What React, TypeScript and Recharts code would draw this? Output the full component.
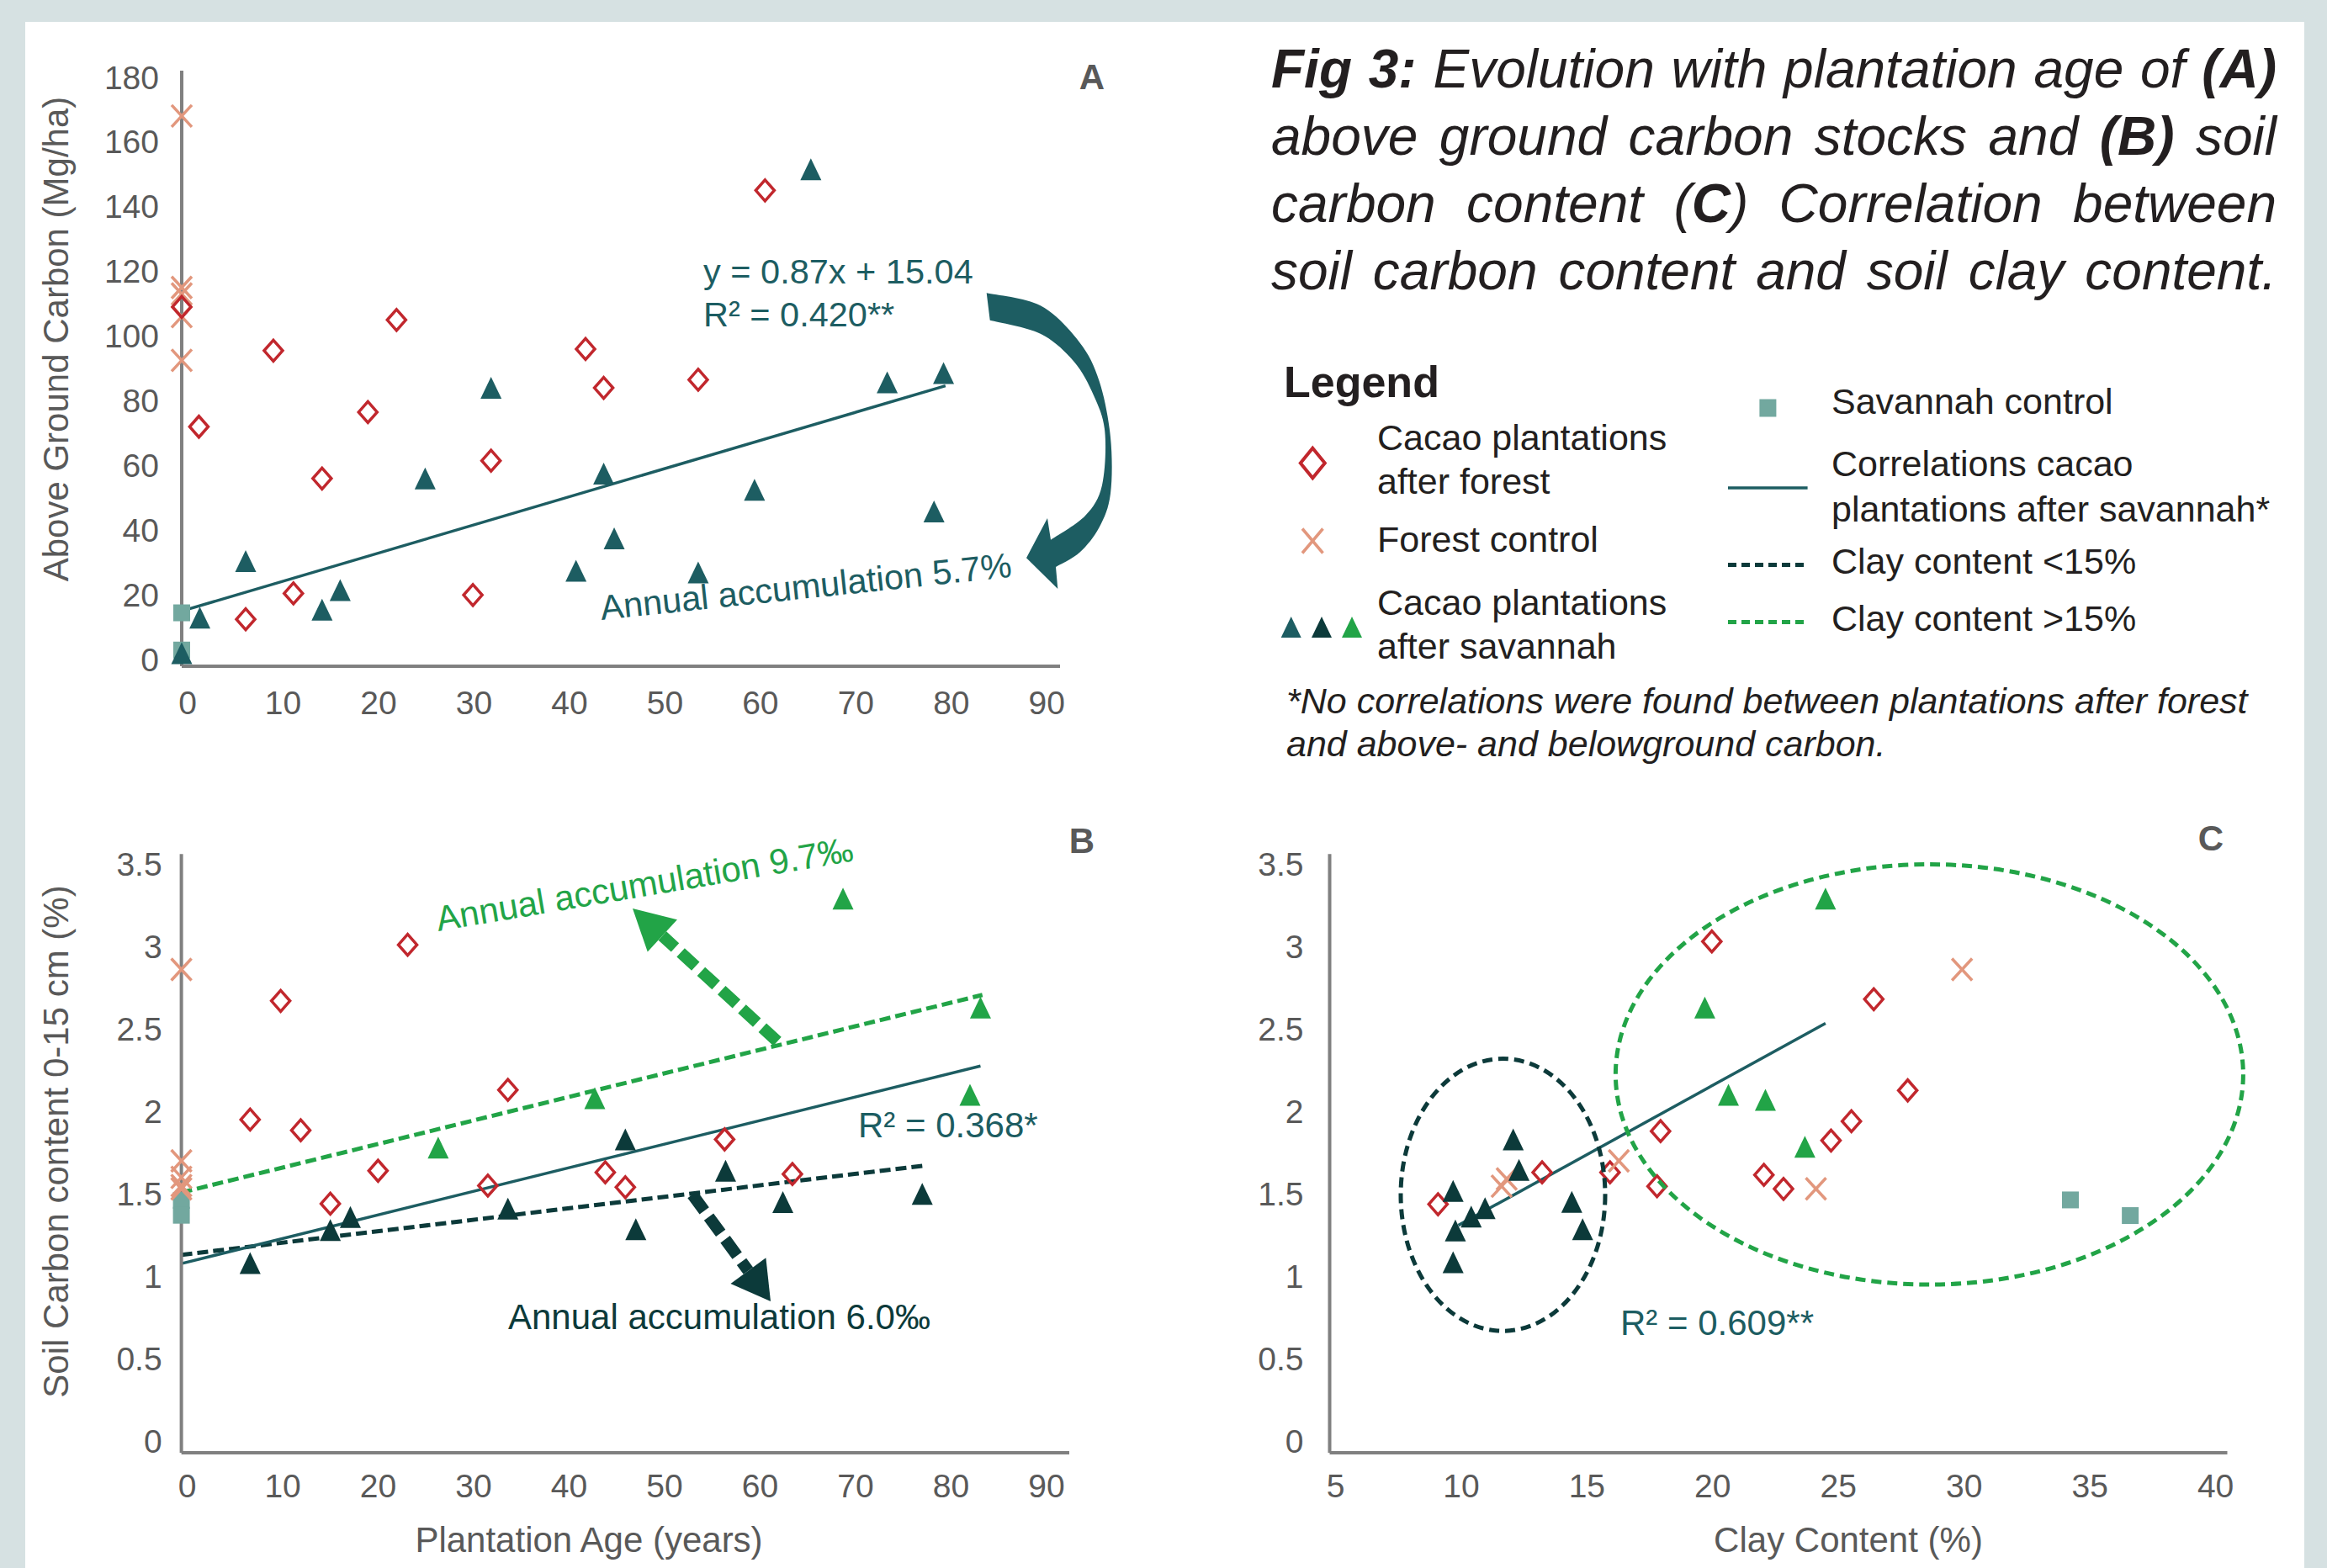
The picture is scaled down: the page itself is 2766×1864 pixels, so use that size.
import React from 'react';
import { ScatterChart, Scatter, XAxis, YAxis, ReferenceLine } from 'recharts';

const FONT = '"Liberation Sans", Arial, Helvetica, sans-serif';

// ---------------- DATA ----------------
const ageTicks = [0, 10, 20, 30, 40, 50, 60, 70, 80, 90];
const carbonTicks = [0, 20, 40, 60, 80, 100, 120, 140, 160, 180];
const soilTicks = [0, 0.5, 1, 1.5, 2, 2.5, 3, 3.5];
const clayTicks = [5, 10, 15, 20, 25, 30, 35, 40];

// Panel A: above ground carbon (Mg/ha) vs plantation age
const forestControlA = [
  { x: 0, y: 168 }, { x: 0, y: 115 }, { x: 0, y: 113 }, { x: 0, y: 106 }, { x: 0, y: 92.5 },
];
const savannahControlA = [{ x: 0, y: 14.5 }, { x: 0, y: 3 }];
const cacaoForestA = [
  { x: 0, y: 109 }, { x: 1.8, y: 72 }, { x: 6.7, y: 12.5 }, { x: 9.6, y: 95.5 }, { x: 11.7, y: 20.5 },
  { x: 14.7, y: 56 }, { x: 19.5, y: 76.5 }, { x: 22.5, y: 105 }, { x: 30.5, y: 20 }, { x: 32.4, y: 61.5 },
  { x: 42.3, y: 96 }, { x: 44.2, y: 84 }, { x: 54.1, y: 86.5 }, { x: 61.1, y: 145 },
];
const cacaoSavannahA = [
  { x: 0, y: 2 }, { x: 1.9, y: 13 }, { x: 6.7, y: 30.5 }, { x: 14.7, y: 15.5 }, { x: 16.6, y: 21.5 },
  { x: 25.5, y: 56 }, { x: 32.4, y: 84 }, { x: 41.3, y: 27.5 }, { x: 44.2, y: 57.5 }, { x: 45.3, y: 37.5 },
  { x: 54.1, y: 27 }, { x: 60.0, y: 52.5 }, { x: 65.9, y: 151.5 }, { x: 73.9, y: 85.7 }, { x: 78.8, y: 45.8 },
  { x: 79.8, y: 88.6 },
];
const trendA = [{ x: 0, y: 15.04 }, { x: 80, y: 84.64 }];

// Panel B: soil carbon (%) vs plantation age
const forestControlB = [
  { x: 0, y: 2.86 }, { x: 0, y: 1.7 }, { x: 0, y: 1.6 }, { x: 0, y: 1.55 }, { x: 0, y: 1.53 },
];
const savannahControlB = [{ x: 0, y: 1.46 }, { x: 0, y: 1.37 }];
const cacaoForestB = [
  { x: 7.2, y: 1.95 }, { x: 10.4, y: 2.67 }, { x: 12.5, y: 1.885 }, { x: 15.6, y: 1.44 },
  { x: 20.6, y: 1.64 }, { x: 23.7, y: 3.01 }, { x: 32.1, y: 1.55 }, { x: 34.2, y: 2.13 },
  { x: 44.4, y: 1.63 }, { x: 46.5, y: 1.54 }, { x: 56.9, y: 1.83 }, { x: 64.0, y: 1.62 },
];
const lowClayB = [
  { x: 7.2, y: 1.08 }, { x: 15.6, y: 1.28 }, { x: 17.7, y: 1.36 }, { x: 34.2, y: 1.41 },
  { x: 46.5, y: 1.83 }, { x: 47.6, y: 1.285 }, { x: 57.0, y: 1.64 }, { x: 63.0, y: 1.45 },
  { x: 77.6, y: 1.5 },
];
const highClayB = [
  { x: 26.9, y: 1.78 }, { x: 43.3, y: 2.08 }, { x: 69.3, y: 3.29 }, { x: 82.6, y: 2.1 }, { x: 83.7, y: 2.63 },
];
const trendB = [{ x: 0, y: 1.077 }, { x: 83.7, y: 2.275 }];
const trendHighClayB = [{ x: 0, y: 1.508 }, { x: 83.9, y: 2.706 }];
const trendLowClayB = [{ x: 0, y: 1.13 }, { x: 77.8, y: 1.671 }];

// Panel C: soil carbon (%) vs clay content (%)
const cacaoForestC = [
  { x: 9.31, y: 1.437 }, { x: 13.45, y: 1.63 }, { x: 16.15, y: 1.63 }, { x: 18.02, y: 1.546 },
  { x: 18.16, y: 1.88 }, { x: 20.2, y: 3.03 }, { x: 22.27, y: 1.615 }, { x: 23.05, y: 1.53 },
  { x: 24.94, y: 1.823 }, { x: 25.75, y: 1.94 }, { x: 26.64, y: 2.68 }, { x: 27.99, y: 2.127 },
];
const forestControlC = [
  { x: 11.84, y: 1.546 }, { x: 12.04, y: 1.59 }, { x: 16.5, y: 1.7 }, { x: 24.34, y: 1.53 }, { x: 30.15, y: 2.86 },
];
const savannahControlC = [{ x: 34.46, y: 1.463 }, { x: 36.84, y: 1.368 }];
const lowClayC = [
  { x: 9.91, y: 1.085 }, { x: 9.91, y: 1.517 }, { x: 10.0, y: 1.278 }, { x: 10.63, y: 1.362 },
  { x: 11.18, y: 1.413 }, { x: 12.3, y: 1.83 }, { x: 12.53, y: 1.645 }, { x: 14.63, y: 1.451 },
  { x: 15.06, y: 1.285 },
];
const highClayC = [
  { x: 19.92, y: 2.63 }, { x: 20.86, y: 2.1 }, { x: 22.33, y: 2.07 }, { x: 23.9, y: 1.785 }, { x: 24.72, y: 3.29 },
];
const trendC = [{ x: 10.12, y: 1.309 }, { x: 24.72, y: 2.534 }];

// ---------------- STYLE ----------------
const C_TEAL = '#1d5d62';
const C_DARK = '#0c3a3a';
const C_GREEN = '#22a447';
const C_RED = '#c1272d';
const C_SALMON = '#e2977d';
const C_SAV = '#72a89f';
const C_AXIS = '#808080';
const C_TICK = '#595959';
const C_TEXT = '#231f20';

const tickStyle = { fill: C_TICK, fontSize: 39, fontFamily: FONT };
const xTickStyle = { fill: C_TICK, fontSize: 39, fontFamily: FONT, dx: 7 };
const axisLine = { stroke: C_AXIS, strokeWidth: 4 };

const Diamond = (p: any) => (
  <path
    d={`M${p.cx},${p.cy - 12.5}L${p.cx + 11},${p.cy}L${p.cx},${p.cy + 12.5}L${p.cx - 11},${p.cy}Z`}
    fill="none" stroke={C_RED} strokeWidth={3.5}
  />
);
const Cross = (p: any) => (
  <g stroke={C_SALMON} strokeWidth={3.5}>
    <line x1={p.cx - 12} y1={p.cy - 13} x2={p.cx + 12} y2={p.cy + 13} />
    <line x1={p.cx - 12} y1={p.cy + 13} x2={p.cx + 12} y2={p.cy - 13} />
  </g>
);
const Square = (p: any) => <rect x={p.cx - 10} y={p.cy - 10} width={20} height={20} fill={C_SAV} />;
const makeTri = (color: string) => (p: any) => (
  <path d={`M${p.cx},${p.cy - 13}L${p.cx + 12.5},${p.cy + 13}L${p.cx - 12.5},${p.cy + 13}Z`} fill={color} />
);
const TriTeal = makeTri(C_TEAL);
const TriDark = makeTri(C_DARK);
const TriGreen = makeTri(C_GREEN);

function smooth(pts: number[][]): string {
  let d = '';
  for (let i = 0; i < pts.length - 1; i++) {
    const p0 = pts[Math.max(0, i - 1)];
    const p1 = pts[i];
    const p2 = pts[i + 1];
    const p3 = pts[Math.min(pts.length - 1, i + 2)];
    const c1 = [p1[0] + (p2[0] - p0[0]) / 6, p1[1] + (p2[1] - p0[1]) / 6];
    const c2 = [p2[0] - (p3[0] - p1[0]) / 6, p2[1] - (p3[1] - p1[1]) / 6];
    d += ` C${c1[0]},${c1[1]} ${c2[0]},${c2[1]} ${p2[0]},${p2[1]}`;
  }
  return d;
}

const outerArc = [
  [1172.7, 348.3], [1236.7, 363.3], [1283, 406.7], [1306.7, 453.3], [1320, 520],
  [1320, 586.7], [1306.7, 626.7], [1283.3, 656.7], [1255, 674],
];
const innerArc = [
  [1249, 641.7], [1290, 613], [1310, 576.7], [1313.3, 513], [1300, 470],
  [1276.7, 430], [1236.7, 396.7], [1176.7, 380.7],
];
const curvedArrowPath =
  `M${outerArc[0][0]},${outerArc[0][1]}` + smooth(outerArc) +
  ' L1257.3,700 L1220,663.3 L1245,616 L1249,641.7' + smooth(innerArc) + ' Z';

function DashedArrow(props: { x1: number; y1: number; x2: number; y2: number; color: string; w: number; hl: number; hw: number; dash: string }) {
  const { x1, y1, x2, y2, color, w, hl, hw, dash } = props;
  const dx = x2 - x1, dy = y2 - y1;
  const L = Math.hypot(dx, dy);
  const ux = dx / L, uy = dy / L;
  const bx = x2 - ux * hl, by = y2 - uy * hl;
  const px = -uy, py = ux;
  return (
    <g>
      <line x1={x1} y1={y1} x2={bx} y2={by} stroke={color} strokeWidth={w} strokeDasharray={dash} />
      <polygon points={`${x2},${y2} ${bx + px * hw},${by + py * hw} ${bx - px * hw},${by - py * hw}`} fill={color} />
    </g>
  );
}

const txt = (extra: any = {}) => ({ fontFamily: FONT, ...extra });

export default function App() {
  return (
    <div style={{ position: 'absolute', left: 0, top: 0, width: 2766, height: 1864, background: '#d6e1e2', overflow: 'hidden', fontFamily: FONT }}>
      <div style={{ position: 'absolute', left: 30, top: 26, width: 2709, height: 1838, background: '#ffffff' }} />

      {/* Panel A */}
      <div style={{ position: 'absolute', left: 0, top: 0 }}>
        <ScatterChart width={1300} height={880} margin={{ top: 84, right: 40, bottom: 0, left: 0 }}>
          <XAxis type="number" dataKey="x" domain={[0, 92]} ticks={ageTicks} interval={0} height={88}
            axisLine={axisLine} tickLine={false} tickSize={0} tickMargin={29} tick={xTickStyle} />
          <YAxis type="number" dataKey="y" domain={[-2, 182]} ticks={carbonTicks} interval={0} width={216}
            axisLine={axisLine} tickLine={false} tickSize={0} tickMargin={27} tick={tickStyle} />
          <Scatter data={forestControlA} shape={Cross} isAnimationActive={false} />
          <Scatter data={cacaoForestA} shape={Diamond} isAnimationActive={false} />
          <Scatter data={savannahControlA} shape={Square} isAnimationActive={false} />
          <Scatter data={cacaoSavannahA} shape={TriTeal} isAnimationActive={false} />
          <ReferenceLine segment={trendA} stroke={C_TEAL} strokeWidth={3.5} ifOverflow="visible" />
        </ScatterChart>
      </div>

      {/* Panel B */}
      <div style={{ position: 'absolute', left: 0, top: 940 }}>
        <ScatterChart width={1300} height={924} margin={{ top: 75.3, right: 29, bottom: 0, left: 0 }}>
          <XAxis type="number" dataKey="x" domain={[0, 93]} ticks={ageTicks} interval={0} height={137}
            axisLine={axisLine} tickLine={false} tickSize={0} tickMargin={25} tick={xTickStyle} />
          <YAxis type="number" dataKey="y" domain={[-0.07, 3.56]} ticks={soilTicks} interval={0} width={215.6}
            axisLine={axisLine} tickLine={false} tickSize={0} tickMargin={23} tick={tickStyle} />
          <ReferenceLine segment={trendHighClayB} stroke={C_GREEN} strokeWidth={5} strokeDasharray="13 6" ifOverflow="visible" />
          <ReferenceLine segment={trendLowClayB} stroke={C_DARK} strokeWidth={5} strokeDasharray="13 6" ifOverflow="visible" />
          <ReferenceLine segment={trendB} stroke={C_TEAL} strokeWidth={3.5} ifOverflow="visible" />
          <Scatter data={savannahControlB} shape={Square} isAnimationActive={false} />
          <Scatter data={forestControlB} shape={Cross} isAnimationActive={false} />
          <Scatter data={cacaoForestB} shape={Diamond} isAnimationActive={false} />
          <Scatter data={lowClayB} shape={TriDark} isAnimationActive={false} />
          <Scatter data={highClayB} shape={TriGreen} isAnimationActive={false} />
        </ScatterChart>
      </div>

      {/* Panel C */}
      <div style={{ position: 'absolute', left: 1400, top: 940 }}>
        <ScatterChart width={1300} height={924} margin={{ top: 75.3, right: 52.5, bottom: 0, left: 0 }}>
          <XAxis type="number" dataKey="x" domain={[5, 40.7]} ticks={clayTicks} interval={0} height={137}
            axisLine={axisLine} tickLine={false} tickSize={0} tickMargin={25} tick={xTickStyle} />
          <YAxis type="number" dataKey="y" domain={[-0.07, 3.56]} ticks={soilTicks} interval={0} width={180.5}
            axisLine={axisLine} tickLine={false} tickSize={0} tickMargin={31} tick={tickStyle} />
          <Scatter data={cacaoForestC} shape={Diamond} isAnimationActive={false} />
          <Scatter data={forestControlC} shape={Cross} isAnimationActive={false} />
          <Scatter data={savannahControlC} shape={Square} isAnimationActive={false} />
          <Scatter data={lowClayC} shape={TriDark} isAnimationActive={false} />
          <Scatter data={highClayC} shape={TriGreen} isAnimationActive={false} />
          <ReferenceLine segment={trendC} stroke={C_TEAL} strokeWidth={3.5} ifOverflow="visible" />
        </ScatterChart>
      </div>

      {/* Title */}
      <div style={{ position: 'absolute', left: 1511, top: 41.6, width: 1195, fontSize: 64, lineHeight: '80px', fontStyle: 'italic', color: C_TEXT, fontFamily: FONT }}>
        <div style={{ textAlign: 'justify', textAlignLast: 'justify' }}><b>Fig 3:</b> Evolution with plantation age of <b>(A)</b></div>
        <div style={{ textAlign: 'justify', textAlignLast: 'justify' }}>above ground carbon stocks and <b>(B)</b> soil</div>
        <div style={{ textAlign: 'justify', textAlignLast: 'justify' }}>carbon content (<b>C</b>) Correlation between</div>
        <div style={{ textAlign: 'justify', textAlignLast: 'justify' }}>soil carbon content and soil clay content.</div>
      </div>

      {/* Overlay: annotations, legend */}
      <svg width={2766} height={1864} style={{ position: 'absolute', left: 0, top: 0, pointerEvents: 'none' }}>
        {/* panel letters */}
        <text x={1298} y={106} textAnchor="middle" fontSize={42} fontWeight="bold" fill={C_TICK} style={txt()}>A</text>
        <text x={1286} y={1014} textAnchor="middle" fontSize={42} fontWeight="bold" fill={C_TICK} style={txt()}>B</text>
        <text x={2628} y={1011} textAnchor="middle" fontSize={42} fontWeight="bold" fill={C_TICK} style={txt()}>C</text>

        {/* axis titles */}
        <text x={81} y={403} textAnchor="middle" fontSize={42} fill={C_TICK} transform="rotate(-90 81 403)" style={txt()}>Above Ground Carbon (Mg/ha)</text>
        <text x={81} y={1357} textAnchor="middle" fontSize={42} fill={C_TICK} transform="rotate(-90 81 1357)" style={txt()}>Soil Carbon content 0-15 cm (%)</text>
        <text x={700} y={1845} textAnchor="middle" fontSize={42} fill={C_TICK} style={txt()}>Plantation Age (years)</text>
        <text x={2197} y={1845} textAnchor="middle" fontSize={42} fill={C_TICK} style={txt()}>Clay Content (%)</text>

        {/* Panel A annotations */}
        <text x={836} y={337} fontSize={41.5} fill={C_TEAL} style={txt()}>y = 0.87x + 15.04</text>
        <text x={836} y={388} fontSize={41.5} fill={C_TEAL} style={txt()}>R² = 0.420**</text>
        <text x={715} y={737} fontSize={41.5} fill={C_TEAL} transform="rotate(-6 715 737)" style={txt()}>Annual accumulation 5.7%</text>
        <path d={curvedArrowPath} fill={C_TEAL} />

        {/* Panel B annotations */}
        <text x={521} y={1107} fontSize={42} fill={C_GREEN} transform="rotate(-9.6 521 1107)" style={txt()}>Annual accumulation 9.7‰</text>
        <DashedArrow x1={924} y1={1238} x2={752} y2={1080} color={C_GREEN} w={14} hl={48} hw={26} dash="24 9" />
        <text x={1020} y={1352} fontSize={42} fill={C_TEAL} style={txt()}>R² = 0.368*</text>
        <DashedArrow x1={823} y1={1420} x2={916} y2={1547} color={C_DARK} w={14} hl={45} hw={26} dash="24 9" />
        <text x={604} y={1579.5} fontSize={42} fill={C_DARK} style={txt()}>Annual accumulation 6.0‰</text>

        {/* Panel C annotations */}
        <ellipse cx={1786.5} cy={1420.4} rx={121.5} ry={161.8} fill="none" stroke={C_DARK} strokeWidth={5} strokeDasharray="12 7" />
        <ellipse cx={2293.4} cy={1277.3} rx={373} ry={249.8} fill="none" stroke={C_GREEN} strokeWidth={5} strokeDasharray="12 7" />
        <text x={1926} y={1586.6} fontSize={42} fill={C_TEAL} style={txt()}>R² = 0.609**</text>

        {/* Legend */}
        <text x={1526} y={471.7} fontSize={52} fontWeight="bold" fill={C_TEXT} style={txt()}>Legend</text>
        <path d="M1560.3,532.7L1574.8,550.5L1560.3,568.3L1545.8,550.5Z" fill="none" stroke={C_RED} strokeWidth={4} />
        <g stroke={C_SALMON} strokeWidth={3.5}>
          <line x1={1548} y1={628.5} x2={1572.5} y2={657.5} />
          <line x1={1548} y1={657.5} x2={1572.5} y2={628.5} />
        </g>
        <path d="M1534.7,733L1546.7,758L1522.7,758Z" fill={C_TEAL} />
        <path d="M1571,733L1583,758L1559,758Z" fill={C_DARK} />
        <path d="M1607,733L1619,758L1595,758Z" fill={C_GREEN} />
        <text x={1637} y={535} fontSize={43} fill={C_TEXT} style={txt()}>Cacao plantations</text>
        <text x={1637} y={586.5} fontSize={43} fill={C_TEXT} style={txt()}>after forest</text>
        <text x={1637} y={656} fontSize={43} fill={C_TEXT} style={txt()}>Forest control</text>
        <text x={1637} y={731} fontSize={43} fill={C_TEXT} style={txt()}>Cacao plantations</text>
        <text x={1637} y={783} fontSize={43} fill={C_TEXT} style={txt()}>after savannah</text>

        <rect x={2091.4} y={474.5} width={20} height={21} fill={C_SAV} />
        <line x1={2054} y1={580} x2={2148.6} y2={580} stroke={C_TEAL} strokeWidth={3.5} />
        <line x1={2054} y1={671.4} x2={2148.6} y2={671.4} stroke={C_DARK} strokeWidth={5} strokeDasharray="10 6" />
        <line x1={2054} y1={739.6} x2={2148.6} y2={739.6} stroke={C_GREEN} strokeWidth={5} strokeDasharray="10 6" />
        <text x={2177} y={492} fontSize={43} fill={C_TEXT} style={txt()}>Savannah control</text>
        <text x={2177} y={566.4} fontSize={43} fill={C_TEXT} style={txt()}>Correlations cacao</text>
        <text x={2177} y={619.8} fontSize={43} fill={C_TEXT} style={txt()}>plantations after savannah*</text>
        <text x={2177} y={682} fontSize={43} fill={C_TEXT} style={txt()}>Clay content &lt;15%</text>
        <text x={2177} y={750.3} fontSize={43} fill={C_TEXT} style={txt()}>Clay content &gt;15%</text>

        <text x={1529} y={848} fontSize={43} fontStyle="italic" fill={C_TEXT} style={txt()}>*No correlations were found between plantations after forest</text>
        <text x={1529} y={898.6} fontSize={43} fontStyle="italic" fill={C_TEXT} style={txt()}>and above- and belowground carbon.</text>
      </svg>
    </div>
  );
}
